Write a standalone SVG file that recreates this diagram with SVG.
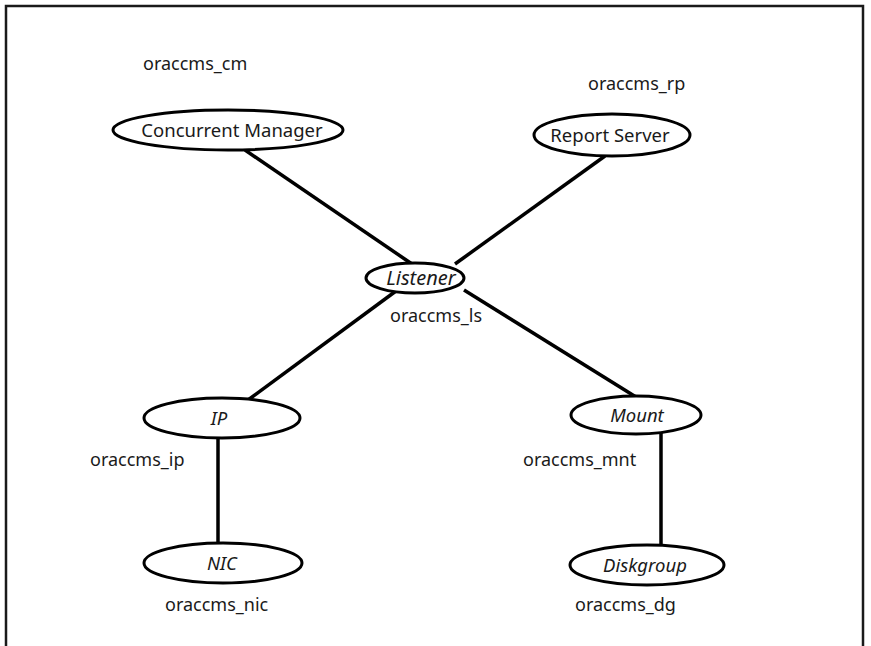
<svg xmlns="http://www.w3.org/2000/svg" width="871" height="646" viewBox="0 0 871 646">
  <style>
    .frame { fill: none; stroke: #1a1a1a; stroke-width: 2.5; }
    .node { fill: #ffffff; stroke: #000000; stroke-width: 3; }
    .link { stroke: #000000; stroke-width: 3.5; fill: none; }
    .title { font-family: "Noto Sans", "Open Sans", sans-serif; font-size: 18.5px; fill: #1a1a1a; text-anchor: middle; }
    .ital { font-style: italic; }
    .res { font-family: "Noto Sans", "Open Sans", sans-serif; font-size: 18px; fill: #1a1a1a; }
  </style>
  <rect width="871" height="646" fill="#ffffff"/>
  <!-- outer frame, open at the bottom edge -->
  <rect class="frame" x="6" y="6" width="857" height="660"/>

  <g id="connectors">
    <line class="link" x1="245" y1="150" x2="412" y2="264"/>
    <line class="link" x1="605" y1="156" x2="455" y2="264"/>
    <line class="link" x1="396" y1="291" x2="248" y2="400"/>
    <line class="link" x1="464" y1="290" x2="636" y2="397"/>
    <line class="link" x1="218" y1="438" x2="218" y2="544"/>
    <line class="link" x1="661" y1="433" x2="661" y2="546"/>
  </g>

  <g id="cm">
    <ellipse class="node" cx="228" cy="130" rx="115" ry="20"/>
    <text class="title" x="232" y="137">Concurrent Manager</text>
    <text class="res" x="143" y="70">oraccms_cm</text>
  </g>

  <g id="rp">
    <ellipse class="node" cx="612" cy="135" rx="78" ry="21"/>
    <text class="title" x="610" y="142">Report Server</text>
    <text class="res" x="588" y="90">oraccms_rp</text>
  </g>

  <g id="ls">
    <ellipse class="node" cx="415" cy="278" rx="49" ry="15"/>
    <text class="title ital" x="421" y="285" style="font-size:20px">Listener</text>
    <text class="res" x="390" y="322">oraccms_ls</text>
  </g>

  <g id="ip">
    <ellipse class="node" cx="222" cy="418" rx="78" ry="20"/>
    <text class="title ital" x="219" y="425">IP</text>
    <text class="res" x="90" y="466">oraccms_ip</text>
  </g>

  <g id="mnt">
    <ellipse class="node" cx="636" cy="415" rx="65" ry="19"/>
    <text class="title ital" x="637" y="422">Mount</text>
    <text class="res" x="523" y="466">oraccms_mnt</text>
  </g>

  <g id="nic">
    <ellipse class="node" cx="223" cy="563" rx="79" ry="20"/>
    <text class="title ital" x="222" y="570">NIC</text>
    <text class="res" x="165" y="611">oraccms_nic</text>
  </g>

  <g id="dg">
    <ellipse class="node" cx="647" cy="565" rx="77" ry="20"/>
    <text class="title ital" x="645" y="572">Diskgroup</text>
    <text class="res" x="575" y="611">oraccms_dg</text>
  </g>
</svg>
